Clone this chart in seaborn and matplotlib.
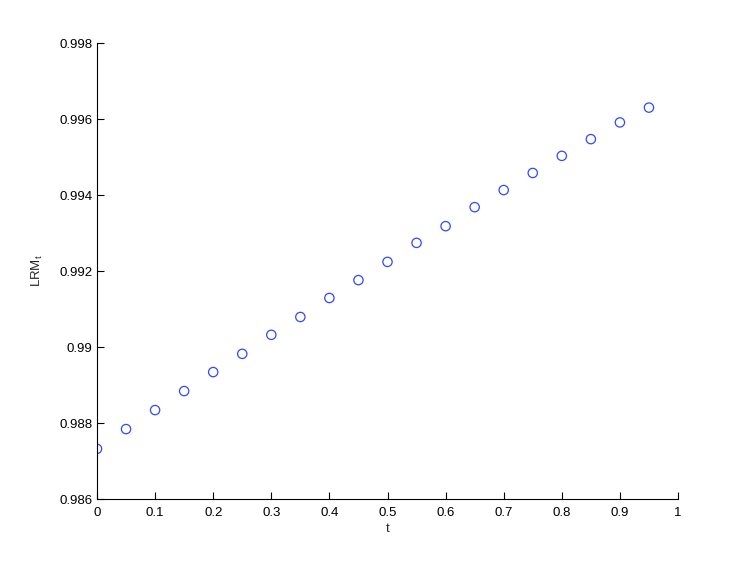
import matplotlib
matplotlib.use("Agg")
import matplotlib.pyplot as plt
import seaborn as sns
import numpy as np
import pandas as pd

t_values = [0.0, 0.05, 0.1, 0.15, 0.2, 0.25, 0.3, 0.35, 0.4, 0.45,
            0.5, 0.55, 0.6, 0.65, 0.7, 0.75, 0.8, 0.85, 0.9, 0.95]
lrm_values = [0.98732, 0.98784, 0.98834, 0.98884, 0.98934, 0.98982, 0.99032, 0.99079,
              0.99129, 0.99176, 0.99224, 0.99274, 0.99318, 0.99368, 0.99413, 0.99458,
              0.99503, 0.99547, 0.99591, 0.99630]
x_ticks = [0, 0.1, 0.2, 0.3, 0.4, 0.5, 0.6, 0.7, 0.8, 0.9, 1]
x_ticklabels = ["0", "0.1", "0.2", "0.3", "0.4", "0.5", "0.6", "0.7", "0.8", "0.9", "1"]
y_ticks = [0.986, 0.988, 0.99, 0.992, 0.994, 0.996, 0.998]
y_ticklabels = ["0.986", "0.988", "0.99", "0.992", "0.994", "0.996", "0.998"]

df = pd.DataFrame({"t": t_values, "LRM": lrm_values})

sns.set_style("white")
plt.rcParams['font.family'] = ['Liberation Sans', 'DejaVu Sans']

fig = plt.figure(figsize=(7.47, 5.62), dpi=100)
ax = fig.add_axes([97/747, 63/562, (678-97)/747, (499-43)/562])

sns.scatterplot(data=df, x="t", y="LRM", ax=ax, marker="o", s=45,
                facecolors="none", edgecolor="#3048ff", linewidth=0.9, legend=False)

ax.set_xlim(0, 1)
ax.set_ylim(0.986, 0.998)
ax.set_xticks(x_ticks)
ax.set_xticklabels(x_ticklabels)
ax.set_yticks(y_ticks)
ax.set_yticklabels(y_ticklabels)
ax.tick_params(axis="both", direction="in", length=5, width=0.8, labelsize=9.5,
               colors="black", bottom=True, left=True, top=False, right=False)
ax.tick_params(axis="x", pad=6)
ax.tick_params(axis="y", pad=3.5)
for s in ["top", "right"]:
    ax.spines[s].set_visible(False)
for s in ["left", "bottom"]:
    ax.spines[s].set_color("black")
    ax.spines[s].set_linewidth(0.8)
ax.set_xlabel("t", fontsize=9.5, labelpad=3)
ax.set_ylabel("LRM$_\\mathregular{t}$", fontsize=9.5, labelpad=10)

fig.savefig("out.png", dpi=100)
